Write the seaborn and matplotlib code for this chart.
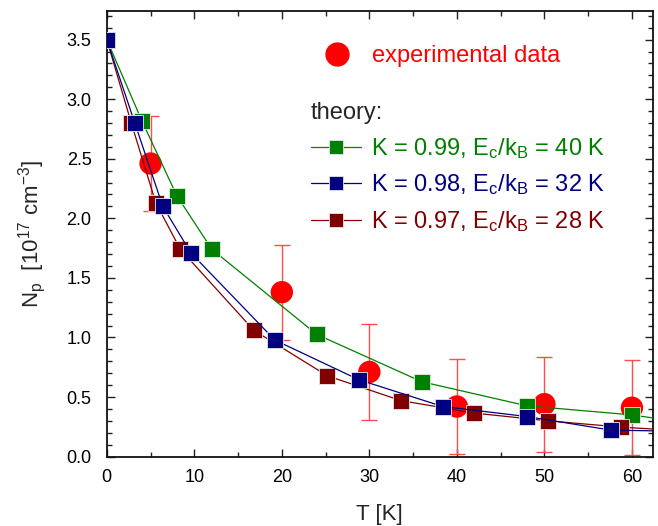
import seaborn as sns
import matplotlib.pyplot as plt
import pandas as pd
from matplotlib.lines import Line2D
from matplotlib.ticker import MultipleLocator

sns.set_theme(style='ticks')
plt.rcParams['font.family'] = ['Liberation Sans', 'DejaVu Sans']
plt.rcParams['mathtext.default'] = 'regular'

RED, GREEN, BLUE, DRED = '#ff0000', '#008000', '#000080', '#800000'

# experimental data
exp_T = [5, 20, 30, 40, 50, 60]
exp_N = [2.46, 1.38, 0.71, 0.42, 0.44, 0.41]
exp_err = [0.40, 0.40, 0.40, 0.40, 0.40, 0.40]

# theory curves
th_T_099 = [0, 4, 8, 12, 24, 36, 48, 60, 72]
th_N_099 = [3.5, 2.82, 2.19, 1.74, 1.025, 0.628, 0.426, 0.35, 0.22]
th_T_098 = [0, 3.2, 6.4, 9.6, 19.2, 28.8, 38.4, 48, 57.6, 67.2]
th_N_098 = [3.5, 2.80, 2.10, 1.71, 0.978, 0.645, 0.42, 0.336, 0.222, 0.21]
th_T_097 = [0, 2.8, 5.6, 8.4, 16.8, 25.2, 33.6, 42, 50.4, 58.8, 67.2]
th_N_097 = [3.5, 2.80, 2.13, 1.74, 1.06, 0.678, 0.47, 0.365, 0.30, 0.247, 0.21]

labels = ['K = 0.99, E$_c$/k$_B$ = 40 K',
          'K = 0.98, E$_c$/k$_B$ = 32 K',
          'K = 0.97, E$_c$/k$_B$ = 28 K']

exp_df = pd.DataFrame({'T': exp_T, 'N': exp_N})
th_df = pd.concat([
    pd.DataFrame({'T': th_T_099, 'N': th_N_099, 'set': labels[0]}),
    pd.DataFrame({'T': th_T_097, 'N': th_N_097, 'set': labels[2]}),
    pd.DataFrame({'T': th_T_098, 'N': th_N_098, 'set': labels[1]}),
])
colors = {labels[0]: GREEN, labels[1]: BLUE, labels[2]: DRED}

fig = plt.figure(figsize=(6.58, 5.26), dpi=100)
ax = fig.add_axes([0.1623, 0.132, 0.830, 0.847])

# experimental: error bars + circles
ax.errorbar(exp_T, exp_N, yerr=exp_err, fmt='none', ecolor='#ff4d4d',
            elinewidth=1.0, capsize=6, capthick=1.0, zorder=2)
sns.scatterplot(data=exp_df, x='T', y='N', color=RED, s=260, marker='o',
                edgecolor='none', ax=ax, zorder=3, legend=False)

# theory lines
for name in [labels[0], labels[2], labels[1]]:
    sub = th_df[th_df['set'] == name]
    sns.lineplot(data=sub, x='T', y='N', sort=False, color=colors[name],
                 lw=0.9, marker='s', markersize=11, markeredgecolor='#e8e8e8',
                 markeredgewidth=0.6, ax=ax, zorder=4, legend=False)

ax.set_xlim(0, 62.4)
ax.set_ylim(0, 3.74)
ax.xaxis.set_major_locator(MultipleLocator(10))
ax.xaxis.set_minor_locator(MultipleLocator(5))
ax.yaxis.set_major_locator(MultipleLocator(0.5))
ax.yaxis.set_minor_locator(MultipleLocator(0.1))
ax.yaxis.set_major_formatter(plt.FormatStrFormatter('%.1f'))
ax.tick_params(which='both', direction='in', top=True, right=True,
               colors='#222222', labelcolor='black', labelsize=13)
ax.tick_params(which='major', length=6, width=1.0)
ax.tick_params(which='minor', length=3.6, width=1.0)
ax.tick_params(axis='y', which='major', pad=11)
ax.tick_params(axis='x', which='major', pad=9)
for sp in ax.spines.values():
    sp.set_linewidth(1.3)
    sp.set_color('#111111')

ax.set_xlabel('T [K]', fontsize=16, labelpad=13)
ax.set_ylabel('N$_p$  [10$^{17}$ cm$^{-3}$]', fontsize=16, labelpad=13)

# legends
h_exp = [Line2D([], [], ls='none', marker='o', color=RED, markersize=16.5)]
leg1 = fig.legend(handles=h_exp, labels=['experimental data'], loc='center left',
                  bbox_to_anchor=(312 / 658, 1 - 56 / 526), frameon=False,
                  fontsize=17, borderpad=0, borderaxespad=0, handlelength=2.1,
                  handletextpad=0.45, labelcolor=[RED])

h_th = [Line2D([], [], color=colors[l], lw=0.9, marker='s', markersize=10,
               markeredgecolor='#e8e8e8', markeredgewidth=0.6) for l in labels]
leg2 = fig.legend(handles=h_th, labels=labels, loc='upper left',
                  bbox_to_anchor=(311 / 658, 1 - 102 / 526), frameon=False,
                  fontsize=17, title='theory:', title_fontsize=17,
                  alignment='left', borderpad=0, borderaxespad=0,
                  handlelength=2.1, handletextpad=0.45, labelspacing=0.5,
                  labelcolor=[GREEN, BLUE, DRED])

fig.savefig('out.png', dpi=100)
